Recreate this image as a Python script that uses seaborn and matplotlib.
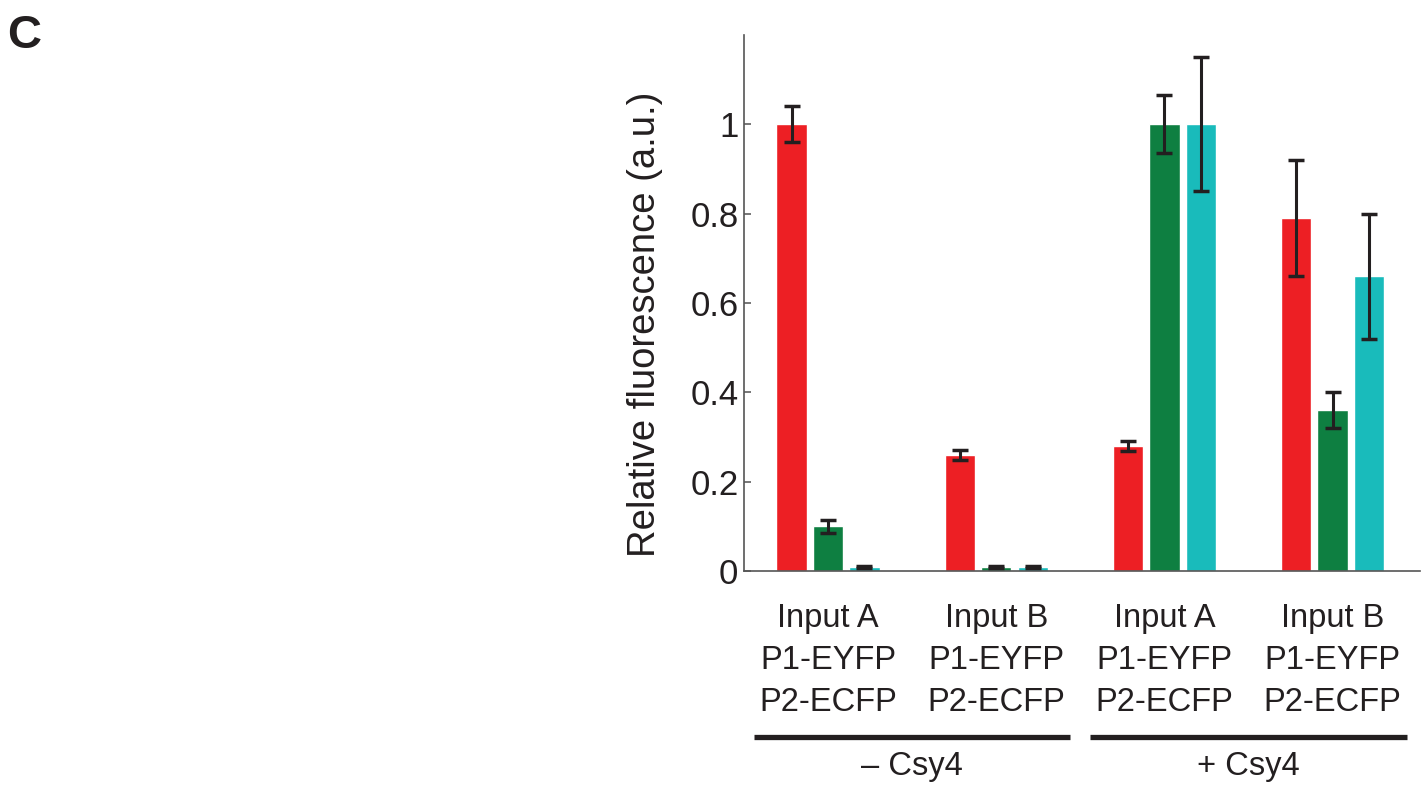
import numpy as np
import pandas as pd
import matplotlib
matplotlib.use('Agg')
import matplotlib.pyplot as plt
import matplotlib.transforms as mtransforms
import seaborn as sns

# data
groups = ['A_minus', 'B_minus', 'A_plus', 'B_plus']
group_labels = ['Input A\nP1-EYFP\nP2-ECFP', 'Input B\nP1-EYFP\nP2-ECFP',
                'Input A\nP1-EYFP\nP2-ECFP', 'Input B\nP1-EYFP\nP2-ECFP']
conditions = ['\u2013 Csy4', '+ Csy4']
series = ['mKate2', 'EYFP', 'ECFP']
colors = ['#ED1F24', '#0E7F41', '#19BBBB']

red_vals = [1.0, 0.26, 0.28, 0.79]
red_err = [0.04, 0.011, 0.011, 0.13]
green_vals = [0.10, 0.01, 1.0, 0.36]
green_err = [0.015, 0.002, 0.065, 0.04]
cyan_vals = [0.01, 0.01, 1.0, 0.66]
cyan_err = [0.002, 0.002, 0.15, 0.14]

yticks = [0, 0.2, 0.4, 0.6, 0.8, 1]
ytick_labels = ['0', '0.2', '0.4', '0.6', '0.8', '1']

df = pd.DataFrame({
    'group': groups * 3,
    'series': [s for s in series for _ in groups],
    'value': red_vals + green_vals + cyan_vals,
})
errs = [red_err, green_err, cyan_err]

sns.set_theme(style='ticks')
plt.rcParams['font.family'] = ['Liberation Sans', 'DejaVu Sans']

fig = plt.figure(figsize=(14.26, 7.91), dpi=100)
ax = fig.add_axes([0.5217, 0.278, 0.4741, 0.6778])

sns.barplot(data=df, x='group', y='value', hue='series', order=groups,
            hue_order=series, palette=colors, width=0.65, gap=0.17,
            errorbar=None, saturation=1, legend=False, ax=ax)

# error bars on the bar centres
for cont, err in zip(ax.containers, errs):
    xs = [b.get_x() + b.get_width() / 2 for b in cont]
    ys = [b.get_height() for b in cont]
    ax.errorbar(xs, ys, yerr=err, fmt='none', ecolor='#231F20',
                elinewidth=2.2, capsize=5.5, capthick=2.5, zorder=3)

ax.set_xlim(-0.5, 3.52)
ax.set_ylim(0, 1.2)
ax.set_yticks(yticks)
ax.set_yticklabels(ytick_labels)
ax.set_xticks(range(len(groups)))
ax.set_xticklabels(group_labels, linespacing=1.45, ha='center', multialignment='center')
ax.tick_params(axis='y', direction='in', length=5, labelsize=25, color='#666666', pad=4, colors='#231F20')
ax.tick_params(axis='x', length=0, labelsize=23.5, pad=23, colors='#231F20')
ax.set_xlabel('')
ax.set_ylabel('Relative fluorescence (a.u.)', fontsize=27.5, color='#231F20')
ax.yaxis.set_label_coords(-0.12, 0.46)

sns.despine(ax=ax)
for sp in ['left', 'bottom']:
    ax.spines[sp].set_color('#555555')
    ax.spines[sp].set_linewidth(1.2)

# condition brackets under the group labels
trans = mtransforms.blended_transform_factory(ax.transData, ax.transAxes)
for k, cond in enumerate(conditions):
    c = 2 * k + 0.5
    ax.plot([c - 0.94, c + 0.94], [-0.31, -0.31], color='#231F20', lw=3.8,
            transform=trans, clip_on=False, solid_capstyle='butt')
    ax.text(c, -0.365, cond, transform=trans, ha='center', va='center',
            fontsize=23.5, color='#231F20')

fig.text(0.005, 0.982, 'C', fontsize=34, fontweight='bold', va='top', color='#231F20')

fig.savefig('out.png', dpi=100)
